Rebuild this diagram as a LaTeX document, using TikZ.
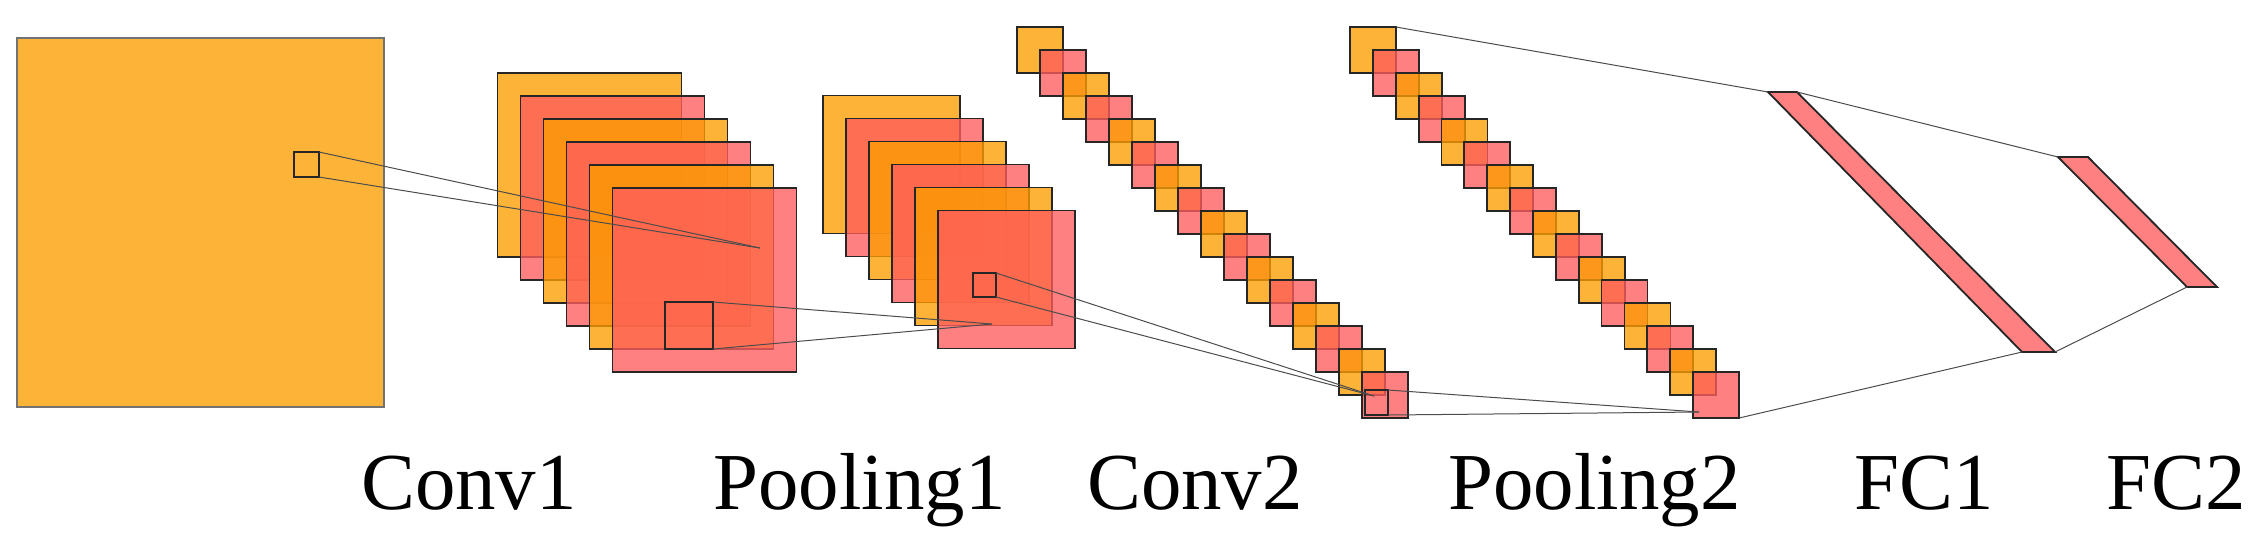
\documentclass[tikz,border=0pt]{standalone}
\usepackage{fontspec}
\setmainfont{Liberation Serif}
\definecolor{fmorange}{RGB}{252,158,0}
\definecolor{fmred}{RGB}{255,92,92}

\begin{document}
\begin{tikzpicture}[x=0.1mm, y=-0.1mm,
  fmap/.style={draw=black!85, line width=0.18mm, fill opacity=0.78, inner sep=0pt, outer sep=0pt},
  kern/.style={draw=black!85, line width=0.2mm, inner sep=0pt, outer sep=0pt},
  link/.style={draw=black!70, line width=0.1mm},
  fcbar/.style={draw=black!85, line width=0.18mm, fill=fmred, fill opacity=0.78},
  lbl/.style={anchor=base, inner sep=0pt, font=\fontsize{23}{28}\selectfont}]
  \useasboundingbox (0,0) rectangle (2255,541);

  % parameters
  \def\stp{23}     % offset between stacked maps
  \def\stpb{22.87} % offset in Pooling2

  % input image
  \node[fmap, fill=fmorange, draw=black!55, line width=0.22mm,
        minimum width=36.7mm, minimum height=36.9mm] (input) at (200.5,222.5) {};
  \node[kern, minimum size=2.5mm] (kin) at (306.5,164.5) {};

  % Conv1
  \foreach \k in {0,...,5}{
    \ifodd\k\relax\def\fc{fmred}\else\def\fc{fmorange}\fi
    \node[fmap, fill=\fc, minimum size=18.4mm] (conv1-\k) at ({589.5+\stp*\k},{165+\stp*\k}) {};
  }
  \node[kern, minimum width=4.8mm, minimum height=4.7mm] (kc1) at (689,325.5) {};

  % Pooling1
  \foreach \k in {0,...,5}{
    \ifodd\k\relax\def\fc{fmred}\else\def\fc{fmorange}\fi
    \node[fmap, fill=\fc, minimum width=13.7mm, minimum height=13.8mm] (pool1-\k) at ({891.5+\stp*\k},{164.5+\stp*\k}) {};
  }
  \node[kern, minimum width=2.3mm, minimum height=2.4mm] (kp1) at (984.5,285) {};

  % Conv2
  \foreach \k in {0,...,15}{
    \ifodd\k\relax\def\fc{fmred}\else\def\fc{fmorange}\fi
    \node[fmap, fill=\fc, minimum size=4.6mm] (conv2-\k) at ({1040+\stp*\k},{50+\stp*\k}) {};
  }
  \node[kern, minimum width=2.3mm, minimum height=2.5mm] (kc2) at (1376.5,402.5) {};

  % Pooling2
  \foreach \k in {0,...,15}{
    \ifodd\k\relax\def\fc{fmred}\else\def\fc{fmorange}\fi
    \node[fmap, fill=\fc, minimum size=4.6mm] (pool2-\k) at ({1373+\stpb*\k},{50+\stp*\k}) {};
  }

  % FC layers
  \coordinate (fc1-tl) at (1768,92);
  \coordinate (fc1-tr) at (1797,92);
  \coordinate (fc1-br) at (2055,352);
  \coordinate (fc1-bl) at (2022,352);
  \coordinate (fc2-tl) at (2058,157);
  \coordinate (fc2-tr) at (2088,157);
  \coordinate (fc2-br) at (2217,287);
  \coordinate (fc2-bl) at (2187,287);
  \draw[fcbar] (fc1-tl) -- (fc1-tr) -- (fc1-br) -- (fc1-bl) -- cycle;
  \draw[fcbar] (fc2-tl) -- (fc2-tr) -- (fc2-br) -- (fc2-bl) -- cycle;

  % receptive field lines
  \coordinate (t1) at (760,248);
  \coordinate (t2) at (992,324);
  \coordinate (t3) at (1374,396);
  \coordinate (t4) at (1699,412);
  \draw[link] (kin.north east) -- (t1);
  \draw[link] (kin.south east) -- (t1);
  \draw[link] (kc1.north east) -- (t2);
  \draw[link] (kc1.south east) -- (t2);
  \draw[link] (kp1.north east) -- (t3);
  \draw[link] (kp1.south east) -- (t3);
  \draw[link] (kc2.north east) -- (t4);
  \draw[link] (kc2.south east) -- (t4);
  \draw[link] (pool2-0.north east) -- (fc1-tl);
  \draw[link] (pool2-15.south east) -- (fc1-bl);
  \draw[link] (fc1-tr) -- (fc2-tl);
  \draw[link] (fc1-br) -- (fc2-bl);

  % labels
  \node[lbl] (lconv1) at (469,509) {Conv1};
  \node[lbl] (lpool1) at (859.5,509) {Pooling1};
  \node[lbl] (lconv2) at (1195,509) {Conv2};
  \node[lbl] (lpool2) at (1594.5,509) {Pooling2};
  \node[lbl] (lfc1) at (1924,509) {FC1};
  \node[lbl] (lfc2) at (2176.5,509) {FC2};
\end{tikzpicture}
\end{document}
